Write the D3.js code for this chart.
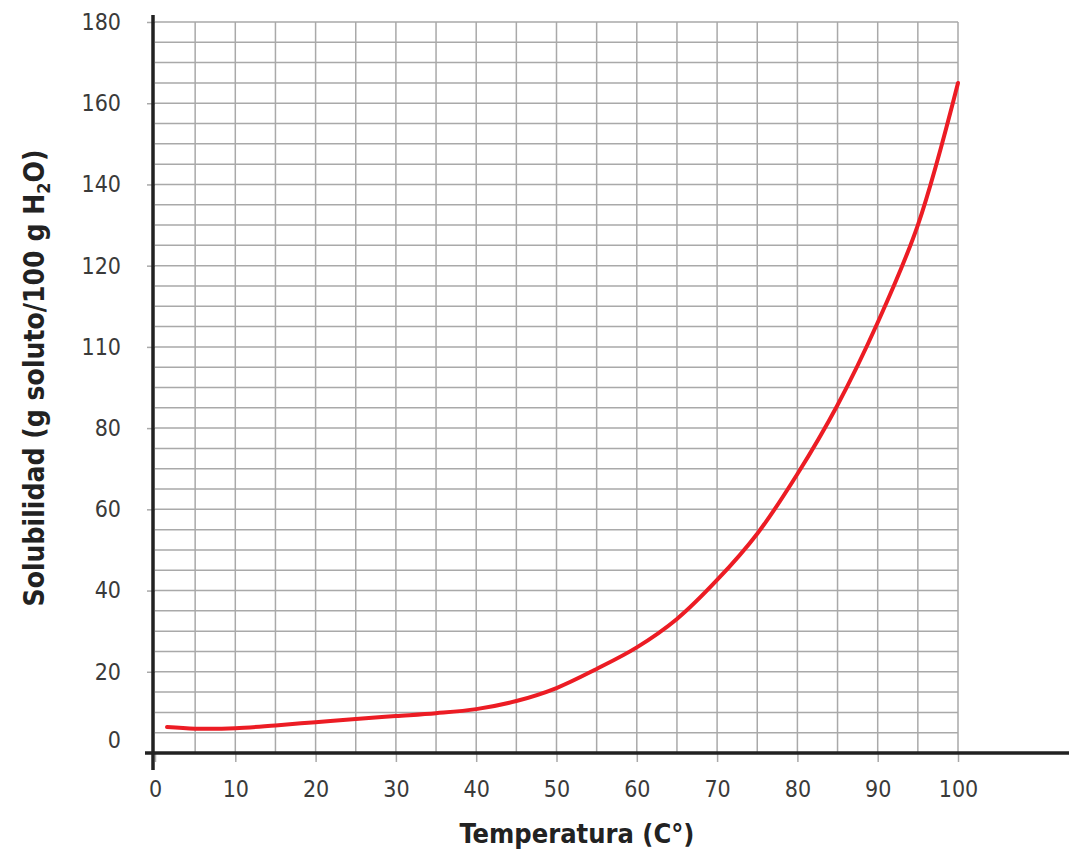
<!DOCTYPE html>
<html>
<head>
<meta charset="utf-8">
<script src="https://cdn.jsdelivr.net/npm/d3@7"></script>
<style>
  body { margin: 0; background: #fff; }
  svg text { font-family: "DejaVu Sans Condensed", "Liberation Sans Narrow", sans-serif; }
</style>
</head>
<body>
<script>
"use strict";

// temperature (°C) and solubility (g / 100 g H2O)
const temps = [1.5, 5, 10, 15, 20, 25, 30, 35, 40, 45, 50, 55, 60, 65, 70, 75, 80, 85, 90, 95, 100];
const solub = [6.4, 6.0, 6.1, 6.8, 7.6, 8.4, 9.1, 9.8, 10.8, 12.8, 16.0, 20.7, 26, 33, 42.6, 54, 68.7, 85.7, 106, 130, 165];

// tick labels as printed (note the "110" where 100 would be)
const yTicks = [0, 20, 40, 60, 80, 100, 120, 140, 160, 180];
const yTickLabels = ["0", "20", "40", "60", "80", "110", "120", "140", "160", "180"];
const xTicks = [0, 10, 20, 30, 40, 50, 60, 70, 80, 90, 100];

const w = 1069;
const h = 851;
const tickFont = "\"Liberation Sans Narrow\", \"DejaVu Sans Condensed\", sans-serif";

const svg = d3.select("body").append("svg").attr("width", w).attr("height", h);

const xScale = d3.scaleLinear().domain([0, 100]).range([155, 958]);
const yScale = d3.scaleLinear().domain([0, 180]).range([753, 22]);

//grid every 5 units
const grid = svg.append("g").attr("stroke", "#a9a9a9").attr("stroke-width", 1.5);
grid.selectAll(".vline")
  .data(d3.range(5, 101, 5))
  .enter()
  .append("line")
  .attr("x1", (d) => xScale(d))
  .attr("x2", (d) => xScale(d))
  .attr("y1", yScale(180))
  .attr("y2", yScale(0));
grid.selectAll(".hline")
  .data(d3.range(5, 181, 5))
  .enter()
  .append("line")
  .attr("x1", xScale(0))
  .attr("x2", xScale(100))
  .attr("y1", (d) => yScale(d))
  .attr("y2", (d) => yScale(d));

//y axis
const yAxis = d3.axisLeft(yScale)
  .tickValues(yTicks)
  .tickSize(8)
  .tickPadding(26)
  .tickFormat((d, i) => yTickLabels[i]);
svg.append("g")
  .attr("transform", `translate(${xScale(0)}, 0)`)
  .call(yAxis)
  .call((g) => g.select(".domain").remove())
  .call((g) => g.selectAll(".tick line").attr("stroke", "#a9a9a9").attr("stroke-width", 1.5))
  .call((g) => g.selectAll(".tick text")
    .attr("font-size", 23)
    .attr("fill", "#3a3a3a")
    .attr("font-family", tickFont)
    .attr("dy", (d) => (d === 0 ? "-0.22em" : "0.32em")));

//x axis
const xAxis = d3.axisBottom(xScale).tickValues(xTicks).tickSize(9).tickPadding(19);
svg.append("g")
  .attr("transform", `translate(0, ${yScale(0)})`)
  .call(xAxis)
  .call((g) => g.select(".domain").remove())
  .call((g) => g.selectAll(".tick line").attr("stroke", "#a9a9a9").attr("stroke-width", 1.5))
  .call((g) => g.selectAll(".tick text")
    .attr("font-size", 23)
    .attr("fill", "#3a3a3a")
    .attr("font-family", tickFont));

//main axis lines
svg.append("line")
  .attr("x1", xScale(0) - 2).attr("x2", xScale(0) - 2)
  .attr("y1", 15).attr("y2", 770)
  .attr("stroke", "#222").attr("stroke-width", 3.5);
svg.append("line")
  .attr("x1", 145).attr("x2", w)
  .attr("y1", yScale(0)).attr("y2", yScale(0))
  .attr("stroke", "#222").attr("stroke-width", 3.5);

//curve
const dataset = temps.map((t, i) => ({ t: t, s: solub[i] }));
const line = d3.line()
  .x((d) => xScale(d.t))
  .y((d) => yScale(d.s))
  .curve(d3.curveCatmullRom.alpha(0.5));
svg.append("path")
  .datum(dataset)
  .attr("d", line)
  .attr("fill", "none")
  .attr("stroke", "#ec1c24")
  .attr("stroke-width", 4)
  .attr("stroke-linecap", "round");

//axis titles
svg.append("text")
  .attr("x", 577)
  .attr("y", 843)
  .attr("text-anchor", "middle")
  .attr("font-size", 27)
  .attr("font-weight", "bold")
  .attr("fill", "#222")
  .text("Temperatura (C°)");

const yLabel = svg.append("text")
  .attr("transform", "translate(44, 378) rotate(-90)")
  .attr("text-anchor", "middle")
  .attr("font-size", 28)
  .attr("font-weight", "bold")
  .attr("fill", "#222");
yLabel.append("tspan").text("Solubilidad (g soluto/100 g H");
yLabel.append("tspan").attr("font-size", 18).attr("dy", 6).text("2");
yLabel.append("tspan").attr("dy", -6).text("O)");
</script>
</body>
</html>
